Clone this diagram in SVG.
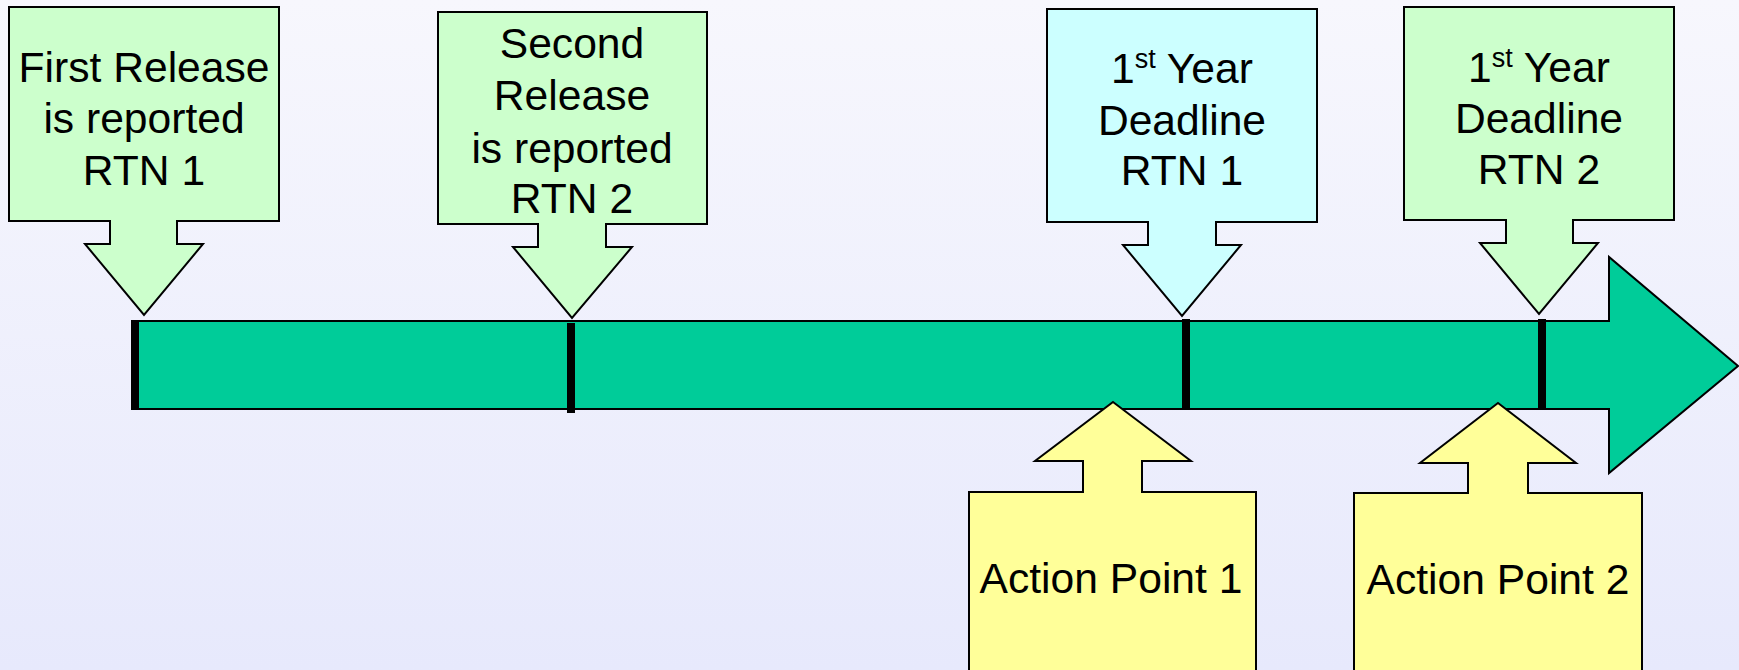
<svg xmlns="http://www.w3.org/2000/svg" width="1739" height="670" viewBox="0 0 1739 670">
<defs>
<linearGradient id="bg" x1="0" y1="0" x2="0" y2="1">
<stop offset="0" stop-color="#f7f7fd"/>
<stop offset="1" stop-color="#e7e9fc"/>
</linearGradient>
</defs>
<style>
.sh{stroke:#000;stroke-width:2;stroke-linejoin:miter}
.g{fill:#ccffcc}.c{fill:#ccffff}.y{fill:#ffff99}.bar{fill:#00cc99}
.t{font-family:"Liberation Sans",Arial,sans-serif;font-size:42.6px;fill:#000;text-anchor:middle}
.sup{font-size:27px}
.tick{fill:#000}
</style>
<rect x="0" y="0" width="1739" height="670" fill="url(#bg)"/>
<g id="connectors">
<g id="timeline">
<path class="sh bar" d="M132,321 L1609,321 L1609,257 L1738,366 L1609,473 L1609,409 L132,409 Z"/>
<rect class="tick" x="131" y="320" width="8" height="89"/>
<rect class="tick" x="567" y="323" width="8" height="90"/>
<rect class="tick" x="1182" y="319" width="8" height="90"/>
<rect class="tick" x="1538" y="319" width="8" height="89"/>
</g>
</g>
<g id="n1">
<path class="sh g" d="M9,7 L279,7 L279,221 L177,221 L177,244 L203,244 L144,315 L85,244 L110,244 L110,221 L9,221 Z"/>
<text class="t" x="144" y="82">First Release</text>
<text class="t" x="144" y="133">is reported</text>
<text class="t" x="144" y="185">RTN 1</text>
</g>
<g id="n2">
<path class="sh g" d="M438,12 L707,12 L707,224 L606,224 L606,247 L632,247 L572,318 L513,247 L538,247 L538,224 L438,224 Z"/>
<text class="t" x="572" y="58">Second</text>
<text class="t" x="572" y="110">Release</text>
<text class="t" x="572" y="163">is reported</text>
<text class="t" x="572" y="213">RTN 2</text>
</g>
<g id="n3">
<path class="sh c" d="M1047,9 L1317,9 L1317,222 L1216,222 L1216,245 L1241,245 L1182,316 L1123,245 L1148,245 L1148,222 L1047,222 Z"/>
<text class="t" x="1182" y="83">1<tspan class="sup" dy="-15">st</tspan><tspan dy="15"> Year</tspan></text>
<text class="t" x="1182" y="135">Deadline</text>
<text class="t" x="1182" y="185">RTN 1</text>
</g>
<g id="n4">
<path class="sh g" d="M1404,7 L1674,7 L1674,220 L1573,220 L1573,243 L1598,243 L1539,314 L1480,243 L1506,243 L1506,220 L1404,220 Z"/>
<text class="t" x="1539" y="82">1<tspan class="sup" dy="-15">st</tspan><tspan dy="15"> Year</tspan></text>
<text class="t" x="1539" y="133">Deadline</text>
<text class="t" x="1539" y="184">RTN 2</text>
</g>
<g id="a1">
<path class="sh y" d="M1113,402 L1191,461 L1142,461 L1142,492 L1256,492 L1256,675 L969,675 L969,492 L1083,492 L1083,461 L1035,461 Z"/>
<text class="t" x="1111" y="593">Action Point 1</text>
</g>
<g id="a2">
<path class="sh y" d="M1498,403 L1576,463 L1528,463 L1528,493 L1642,493 L1642,675 L1354,675 L1354,493 L1468,493 L1468,463 L1420,463 Z"/>
<text class="t" x="1498" y="594">Action Point 2</text>
</g>
</svg>
